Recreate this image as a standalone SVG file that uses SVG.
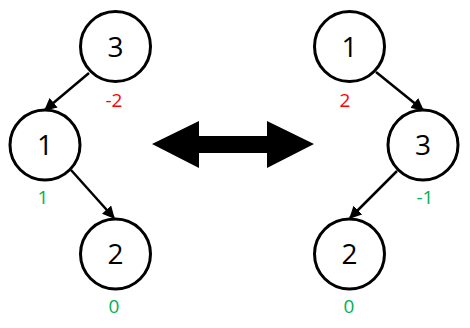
<svg xmlns="http://www.w3.org/2000/svg" width="470" height="328" viewBox="0 0 470 328">
<style>
.node circle{fill:#fff;stroke:#000;stroke-width:3}
.node text{font-family:"Open Sans","Liberation Sans",sans-serif;font-size:28px;text-anchor:middle;fill:#000}
.bal{font-family:"Open Sans","Liberation Sans",sans-serif;font-size:19px;text-anchor:middle}
.red{fill:#ff0000}
.green{fill:#00b050}
.edges line{stroke:#000;stroke-width:2.5}
</style>
<defs>
<marker id="ah" viewBox="0 0 10 10" refX="9" refY="5" markerWidth="5" markerHeight="5" markerUnits="strokeWidth" orient="auto">
<path d="M0,0 L10,5 L0,10 z" fill="#000"/>
</marker>
</defs>
<g class="edges">
<line x1="89" y1="73" x2="45" y2="110" marker-end="url(#ah)"/>
<line x1="71" y1="170" x2="114" y2="218" marker-end="url(#ah)"/>
<line x1="376" y1="72" x2="423" y2="110" marker-end="url(#ah)"/>
<line x1="397" y1="171" x2="350" y2="218" marker-end="url(#ah)"/>
</g>
<g id="L3" class="node"><circle cx="115.5" cy="46.5" r="35"/><text x="115.5" y="56.5">3</text></g>
<g id="L1" class="node"><circle cx="45" cy="145" r="35"/><text x="45" y="155">1</text></g>
<g id="L2" class="node"><circle cx="115.5" cy="254" r="35"/><text x="115.5" y="264">2</text></g>
<g id="R1" class="node"><circle cx="349.5" cy="46.5" r="35"/><text x="349.5" y="56.5">1</text></g>
<g id="R3" class="node"><circle cx="423" cy="145" r="35"/><text x="423" y="155">3</text></g>
<g id="R2" class="node"><circle cx="349.5" cy="254" r="35"/><text x="349.5" y="264">2</text></g>
<text class="bal red" x="114" y="107">-2</text>
<text class="bal green" x="43" y="204">1</text>
<text class="bal green" x="114" y="313">0</text>
<text class="bal red" x="345" y="107">2</text>
<text class="bal green" x="425" y="204">-1</text>
<text class="bal green" x="349" y="313">0</text>
<g id="swap"><path d="M152,144 L199,121 L199,136 L267,136 L267,121 L314,144 L267,168 L267,153 L199,153 L199,168 z" fill="#000"/></g>
</svg>
